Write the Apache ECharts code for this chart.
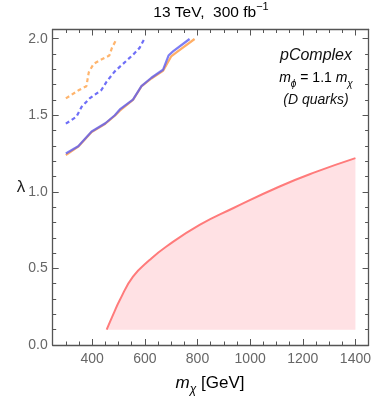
<!DOCTYPE html>
<html><head><meta charset="utf-8">
<script src="https://cdn.jsdelivr.net/npm/echarts@6/dist/echarts.min.js"></script>
<style>html,body{margin:0;padding:0;background:#fff}#c{width:374px;height:398px}</style>
</head><body><div id="c"></div>
<script>
// ---- data ----
const xMajorTicks = [400, 600, 800, 1000, 1200, 1400];
const xMinorTicks = [300, 350, 450, 500, 550, 650, 700, 750, 850, 900, 950, 1050, 1100, 1150, 1250, 1300, 1350];
const yMajorTicks = [0, 0.5, 1.0, 1.5, 2.0];
const yMinorTicks = [0.1, 0.2, 0.3, 0.4, 0.6, 0.7, 0.8, 0.9, 1.1, 1.2, 1.3, 1.4, 1.6, 1.7, 1.8, 1.9];

const relicCurve = [[455,0.1],[480,0.2],[505,0.294],[555,0.446],[619,0.556],[682,0.643],[808,0.784],[935,0.893],[1112,1.035],[1250,1.13],[1400,1.22]];
const orangeDashed = [[300,1.61],[350,1.665],[378,1.69],[387,1.78],[405,1.835],[430,1.86],[465,1.89],[475,1.94],[492,1.995]];
const blueDashed = [[300,1.445],[340,1.49],[360,1.555],[390,1.61],[435,1.665],[455,1.72],[485,1.785],[555,1.895],[580,1.94],[597,1.995]];
const orangeSolid = [[300,1.24],[347,1.295],[398,1.39],[450,1.445],[486,1.497],[505,1.53],[555,1.6],[587,1.688],[625,1.74],[669,1.79],[700,1.884],[720,1.91],[789,1.998]];
const blueSolid = [[300,1.25],[347,1.298],[398,1.394],[450,1.448],[486,1.5],[505,1.538],[555,1.602],[587,1.69],[625,1.745],[669,1.797],[690,1.89],[707,1.917],[770,1.998]];

const xMin = 250, xMax = 1450, yMin = 0, yMax = 2.06;

const chart = echarts.init(document.getElementById('c'), null, {renderer: 'canvas'});
const frameColor = '#555';
const labelStyle = {fontFamily: 'Liberation Sans', fontSize: 14, color: '#666'};

function xAxisDef(pos, ticks, len, showLabel, showLine) {
  return {
    type: 'value', min: xMin, max: xMax, position: pos,
    axisLine: {show: showLine, onZero: false, lineStyle: {color: frameColor, width: 1.3}},
    axisTick: {show: true, inside: true, length: len, customValues: ticks, lineStyle: {color: frameColor, width: 1}},
    axisLabel: showLabel ? Object.assign({show: true, margin: 7, customValues: ticks,
      formatter: v => String(v)}, labelStyle) : {show: false},
    splitLine: {show: false}
  };
}
function yAxisDef(pos, ticks, len, showLabel, showLine) {
  return {
    type: 'value', min: yMin, max: yMax, position: pos,
    axisLine: {show: showLine, onZero: false, lineStyle: {color: frameColor, width: 1.3}},
    axisTick: {show: true, inside: true, length: len, customValues: ticks, lineStyle: {color: frameColor, width: 1}},
    axisLabel: showLabel ? Object.assign({show: true, margin: 5, customValues: ticks,
      formatter: v => v.toFixed(1)}, labelStyle) : {show: false},
    splitLine: {show: false}
  };
}

const sub = {fontFamily: 'Liberation Sans', fontStyle: 'italic', fontSize: 10, lineHeight: 10, verticalAlign: 'bottom', color: '#111'};

chart.setOption({
  animation: false,
  grid: {left: 52.7, right: 4.7, top: 29.5, bottom: 53, containLabel: false},
  xAxis: [
    xAxisDef('bottom', xMajorTicks, 6, true, true),
    xAxisDef('bottom', xMinorTicks, 3.5, false, false),
    xAxisDef('top', xMajorTicks, 6, false, true),
    xAxisDef('top', xMinorTicks, 3.5, false, false)
  ],
  yAxis: [
    yAxisDef('left', yMajorTicks, 6, true, true),
    yAxisDef('left', yMinorTicks, 3.5, false, false),
    yAxisDef('right', yMajorTicks, 6, false, true),
    yAxisDef('right', yMinorTicks, 3.5, false, false)
  ],
  series: [
    {type: 'line', data: relicCurve, showSymbol: false, symbol: 'none', smooth: 0.5,
     lineStyle: {color: '#ff7b7b', width: 2},
     areaStyle: {color: '#ffe1e4', opacity: 1, origin: 0.1}, z: 1},
    {type: 'line', data: orangeDashed, symbol: 'none', lineStyle: {color: '#ffb56e', width: 2.2, type: [4, 3]}, z: 2},
    {type: 'line', data: blueDashed, symbol: 'none', lineStyle: {color: '#6f6ff7', width: 2.2, type: [4, 3]}, z: 2},
    {type: 'line', data: orangeSolid, symbol: 'none', lineStyle: {color: '#ffae66', width: 2.2}, z: 3},
    {type: 'line', data: blueSolid, symbol: 'none', lineStyle: {color: '#5c5cf0', width: 2.2, opacity: 0.8}, z: 4}
  ],
  graphic: [
    {type: 'text', x: 211, y: 13, style: {
      text: '{m|13 TeV,  300 fb}{s|−1}', align: 'center', verticalAlign: 'middle',
      rich: {m: {fontFamily: 'Liberation Sans', fontSize: 15.5, lineHeight: 24, color: '#222'},
             s: {fontFamily: 'Liberation Sans', fontSize: 11, lineHeight: 11, verticalAlign: 'top', color: '#222'}}
    }},
    {type: 'text', x: 21, y: 187, style: {text: 'λ', fontFamily: 'Liberation Sans', fontSize: 17, fill: '#222', align: 'center', verticalAlign: 'middle'}},
    {type: 'text', x: 210, y: 383, style: {
      text: '{i|m}{b|χ}{n| [GeV]}', align: 'center', verticalAlign: 'middle',
      rich: {i: {fontFamily: 'Liberation Sans', fontStyle: 'italic', fontSize: 17, lineHeight: 26, color: '#222'},
             b: {fontFamily: 'Liberation Sans', fontStyle: 'italic', fontSize: 12, lineHeight: 12, verticalAlign: 'bottom', color: '#222'},
             n: {fontFamily: 'Liberation Sans', fontSize: 17, lineHeight: 26, color: '#222'}}
    }},
    {type: 'text', x: 316, y: 56, style: {text: 'pComplex', fontFamily: 'Liberation Sans', fontStyle: 'italic', fontSize: 16, fill: '#111', align: 'center', verticalAlign: 'middle'}},
    {type: 'text', x: 316, y: 78, style: {
      text: '{i|m}{b|ϕ}{n| = 1.1 }{i|m}{b|χ}', align: 'center', verticalAlign: 'middle',
      rich: {i: {fontFamily: 'Liberation Sans', fontStyle: 'italic', fontSize: 14, lineHeight: 22, color: '#111'},
             b: sub,
             n: {fontFamily: 'Liberation Sans', fontSize: 14, lineHeight: 22, color: '#111'}}
    }},
    {type: 'text', x: 316, y: 100, style: {text: '(D quarks)', fontFamily: 'Liberation Sans', fontStyle: 'italic', fontSize: 14, fill: '#111', align: 'center', verticalAlign: 'middle'}},
    {type: 'text', x: 304, y: 301, style: {
      text: '{i|Ω}{b|χ}{i|h}{p|2}{i| > 0.12}', align: 'center', verticalAlign: 'middle',
      rich: {i: {fontFamily: 'Liberation Sans', fontStyle: 'italic', fontSize: 14, lineHeight: 22, color: '#111'},
             b: sub,
             p: {fontFamily: 'Liberation Sans', fontStyle: 'italic', fontSize: 10, lineHeight: 10, verticalAlign: 'top', color: '#111'}}
    }}
  ]
});
</script></body></html>
